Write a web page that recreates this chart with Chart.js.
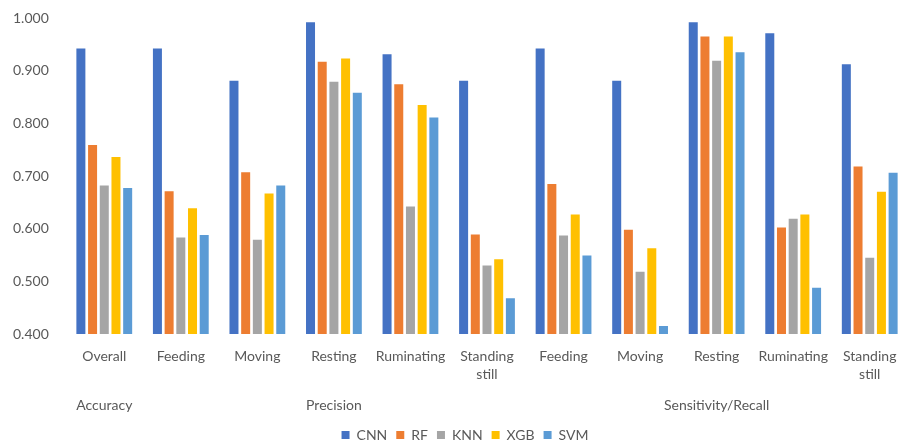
<!DOCTYPE html>
<html>
<head>
<meta charset="utf-8">
<script src="https://cdn.jsdelivr.net/npm/chart.js@4.4.1/dist/chart.umd.min.js"></script>
<style>
  html, body { margin: 0; padding: 0; background: #ffffff; overflow: hidden; }
  #wrap { width: 930px; height: 454px; position: relative; }
</style>
</head>
<body>
<div id="wrap"><canvas id="chart"></canvas></div>
<script>
// Activity classes evaluated per metric
const categories = [
  'Overall',
  'Feeding', 'Moving', 'Resting', 'Ruminating', ['Standing', 'still'],
  'Feeding', 'Moving', 'Resting', 'Ruminating', ['Standing', 'still']
];

// Metric groups: label and the first/last category index they span
const groupLabels = ['Accuracy', 'Precision', 'Sensitivity/Recall'];
const groupStart = [0, 1, 6];
const groupEnd = [0, 5, 10];

// Scores per model
const cnn = [0.942, 0.942, 0.881, 0.992, 0.931, 0.881, 0.942, 0.881, 0.992, 0.971, 0.912];
const rf  = [0.759, 0.671, 0.707, 0.917, 0.874, 0.589, 0.685, 0.598, 0.965, 0.602, 0.718];
const knn = [0.682, 0.583, 0.579, 0.879, 0.642, 0.530, 0.587, 0.518, 0.919, 0.619, 0.545];
const xgb = [0.736, 0.639, 0.667, 0.923, 0.835, 0.542, 0.627, 0.563, 0.965, 0.627, 0.670];
const svm = [0.677, 0.588, 0.682, 0.858, 0.811, 0.468, 0.549, 0.415, 0.935, 0.488, 0.706];

const seriesNames = ['CNN', 'RF', 'KNN', 'XGB', 'SVM'];
const seriesValues = [cnn, rf, knn, xgb, svm];
const seriesColors = ['#4472C4', '#ED7D31', '#A5A5A5', '#FFC000', '#5B9BD5'];

const textColor = '#595959';
const fontFamily = 'Lato, "Open Sans", sans-serif';

// Draws the metric group names beneath the category labels
const groupLabelPlugin = {
  id: 'groupLabels',
  afterDraw(chart) {
    const x = chart.scales.x;
    const ctx = chart.ctx;
    ctx.save();
    ctx.fillStyle = textColor;
    ctx.font = '14px ' + fontFamily;
    ctx.textAlign = 'center';
    ctx.textBaseline = 'middle';
    groupLabels.forEach((name, i) => {
      const cx = (x.getPixelForValue(groupStart[i]) + x.getPixelForValue(groupEnd[i])) / 2;
      ctx.fillText(name, cx, 405);
    });
    ctx.restore();
  }
};

new Chart(document.getElementById('chart'), {
  type: 'bar',
  data: {
    labels: categories,
    datasets: seriesNames.map((name, i) => ({
      label: name,
      data: seriesValues[i],
      backgroundColor: seriesColors[i],
      borderWidth: 0,
      categoryPercentage: 0.764,
      barPercentage: 0.77
    }))
  },
  options: {
    responsive: true,
    maintainAspectRatio: false,
    animation: false,
    layout: { padding: { top: 18, right: 22, left: 22, bottom: 2 } },
    plugins: {
      legend: {
        position: 'bottom',
        labels: {
          color: textColor,
          font: { family: fontFamily, size: 14 },
          boxWidth: 8,
          boxHeight: 8,
          padding: 9
        }
      },
      tooltip: { enabled: false }
    },
    scales: {
      x: {
        grid: { display: false, drawTicks: false },
        border: { display: false },
        ticks: {
          color: textColor,
          font: { family: fontFamily, size: 14, lineHeight: 1.3 },
          padding: 13,
          maxRotation: 0,
          autoSkip: false
        },
        afterFit(scale) { scale.height = 85; }
      },
      y: {
        min: 0.4,
        max: 1.0,
        grid: { display: false, drawTicks: false },
        border: { display: false },
        ticks: {
          stepSize: 0.1,
          color: textColor,
          font: { family: fontFamily, size: 14 },
          // labels are placed from the axis edge leftwards (left-aligned, 53px before the plot)
          mirror: true,
          padding: -53,
          callback: (v) => Number(v).toFixed(3)
        },
        afterFit(scale) {
          scale.width = 44;
          scale.paddingTop = 0;
          scale.paddingBottom = 0;
        }
      }
    }
  },
  plugins: [groupLabelPlugin]
});
</script>
</body>
</html>
